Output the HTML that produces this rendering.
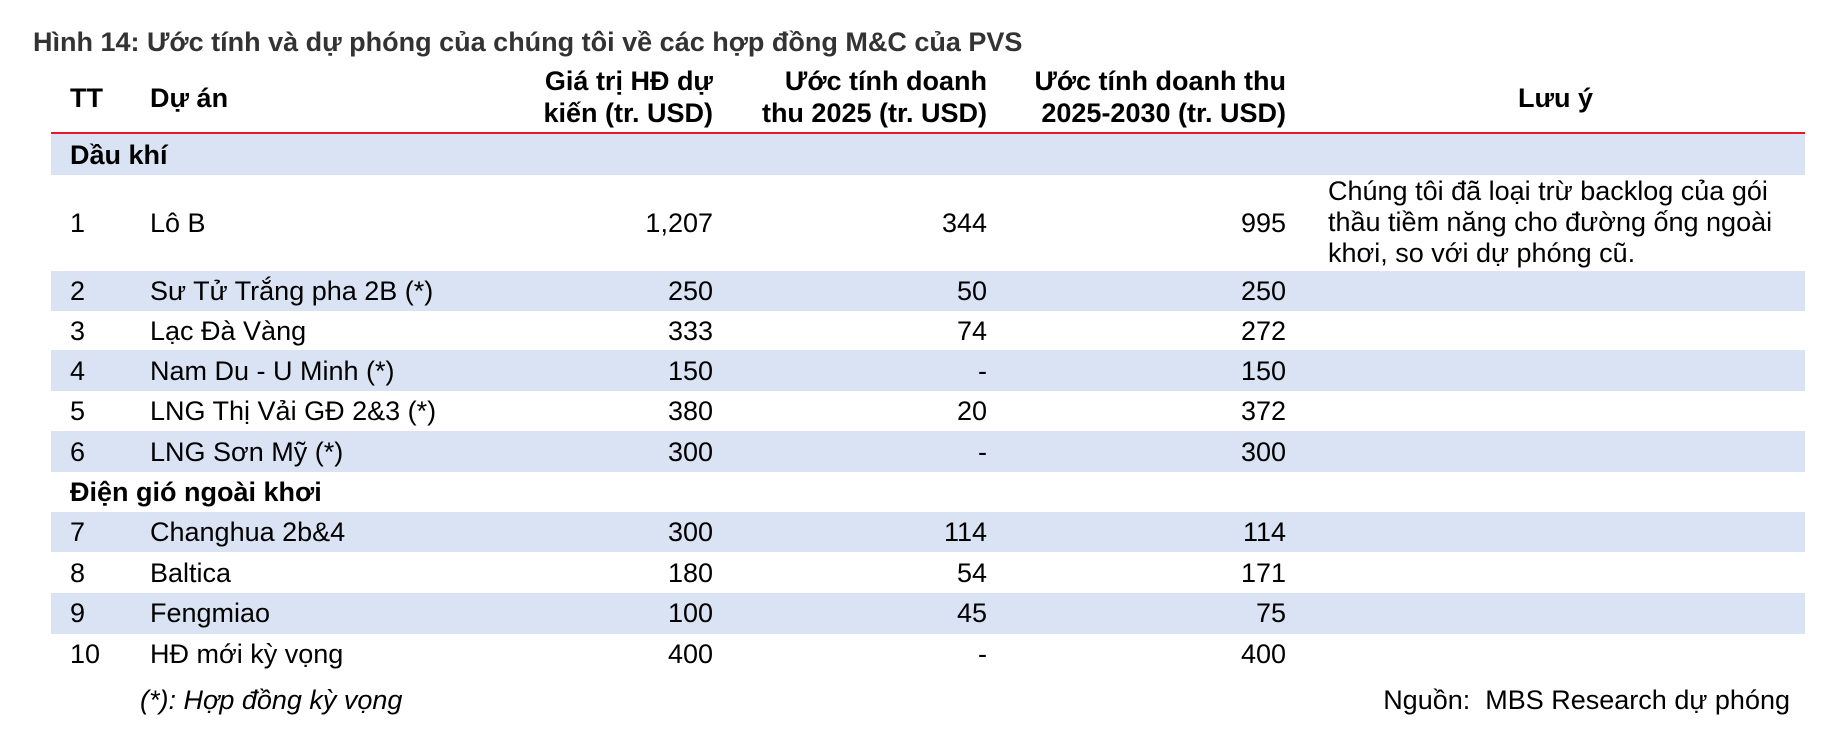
<!DOCTYPE html>
<html><head><meta charset="utf-8"><style>
body{margin:0;width:1822px;height:736px;background:#fff;position:relative;overflow:hidden;font-family:"Liberation Sans",Arial,sans-serif;color:#000}
.a{position:absolute;white-space:nowrap}
.band{position:absolute;left:51px;width:1754px;background:#dae3f3}
.t{font-size:27px;line-height:30px}
.r{text-align:right}
.b{font-weight:bold}
</style></head><body>
<div class="a b" style="left:33px;top:26px;font-size:27px;color:#333;line-height:32px">Hình 14: Ước tính và dự phóng của chúng tôi về các hợp đồng M&amp;C của PVS</div>

<div class="a t b" style="left:70px;top:83px">TT</div>
<div class="a t b" style="left:150px;top:83px">Dự án</div>
<div class="a t b r" style="right:1109px;top:66px">Giá trị HĐ dự</div>
<div class="a t b r" style="right:1109px;top:98px">kiến (tr. USD)</div>
<div class="a t b r" style="right:835px;top:66px">Ước tính doanh</div>
<div class="a t b r" style="right:835px;top:98px">thu 2025 (tr. USD)</div>
<div class="a t b r" style="right:536px;top:66px">Ước tính doanh thu</div>
<div class="a t b r" style="right:536px;top:98px">2025-2030 (tr. USD)</div>
<div class="a t b" style="left:1518px;top:83px">Lưu ý</div>
<div class="a" style="left:51px;width:1754px;top:132px;height:2px;background:#e8192c"></div>

<div class="band" style="top:134px;height:41px"></div>
<div class="a t b" style="left:70px;top:140px">Dầu khí</div>

<div class="band" style="top:271px;height:40px"></div>
<div class="band" style="top:350px;height:41px"></div>
<div class="band" style="top:431px;height:41px"></div>
<div class="band" style="top:512px;height:40px"></div>
<div class="band" style="top:593px;height:41px"></div>

<div class="a t b" style="left:70px;top:477px">Điện gió ngoài khơi</div>

<div class="a t" style="left:1328px;top:176px;line-height:31px;white-space:normal;width:475px">Chúng tôi đã loại trừ backlog của gói thầu tiềm năng cho đường ống ngoài khơi, so với dự phóng cũ.</div>

<div class="a t" style="left:70px;top:208px">1</div><div class="a t" style="left:150px;top:208px">Lô B</div><div class="a t r" style="right:1109px;top:208px">1,207</div><div class="a t r" style="right:835px;top:208px">344</div><div class="a t r" style="right:536px;top:208px">995</div>
<div class="a t" style="left:70px;top:276px">2</div><div class="a t" style="left:150px;top:276px">Sư Tử Trắng pha 2B (*)</div><div class="a t r" style="right:1109px;top:276px">250</div><div class="a t r" style="right:835px;top:276px">50</div><div class="a t r" style="right:536px;top:276px">250</div>
<div class="a t" style="left:70px;top:316px">3</div><div class="a t" style="left:150px;top:316px">Lạc Đà Vàng</div><div class="a t r" style="right:1109px;top:316px">333</div><div class="a t r" style="right:835px;top:316px">74</div><div class="a t r" style="right:536px;top:316px">272</div>
<div class="a t" style="left:70px;top:356px">4</div><div class="a t" style="left:150px;top:356px">Nam Du - U Minh (*)</div><div class="a t r" style="right:1109px;top:356px">150</div><div class="a t r" style="right:835px;top:356px">-</div><div class="a t r" style="right:536px;top:356px">150</div>
<div class="a t" style="left:70px;top:396px">5</div><div class="a t" style="left:150px;top:396px">LNG Thị Vải GĐ 2&amp;3 (*)</div><div class="a t r" style="right:1109px;top:396px">380</div><div class="a t r" style="right:835px;top:396px">20</div><div class="a t r" style="right:536px;top:396px">372</div>
<div class="a t" style="left:70px;top:437px">6</div><div class="a t" style="left:150px;top:437px">LNG Sơn Mỹ (*)</div><div class="a t r" style="right:1109px;top:437px">300</div><div class="a t r" style="right:835px;top:437px">-</div><div class="a t r" style="right:536px;top:437px">300</div>
<div class="a t" style="left:70px;top:517px">7</div><div class="a t" style="left:150px;top:517px">Changhua 2b&amp;4</div><div class="a t r" style="right:1109px;top:517px">300</div><div class="a t r" style="right:835px;top:517px">114</div><div class="a t r" style="right:536px;top:517px">114</div>
<div class="a t" style="left:70px;top:558px">8</div><div class="a t" style="left:150px;top:558px">Baltica</div><div class="a t r" style="right:1109px;top:558px">180</div><div class="a t r" style="right:835px;top:558px">54</div><div class="a t r" style="right:536px;top:558px">171</div>
<div class="a t" style="left:70px;top:598px">9</div><div class="a t" style="left:150px;top:598px">Fengmiao</div><div class="a t r" style="right:1109px;top:598px">100</div><div class="a t r" style="right:835px;top:598px">45</div><div class="a t r" style="right:536px;top:598px">75</div>
<div class="a t" style="left:70px;top:639px">10</div><div class="a t" style="left:150px;top:639px">HĐ mới kỳ vọng</div><div class="a t r" style="right:1109px;top:639px">400</div><div class="a t r" style="right:835px;top:639px">-</div><div class="a t r" style="right:536px;top:639px">400</div>

<div class="a t" style="left:140px;top:685px;font-style:italic">(*): Hợp đồng kỳ vọng</div>
<div class="a t r" style="right:32px;top:685px">Nguồn:&nbsp; MBS Research dự phóng</div>
</body></html>
